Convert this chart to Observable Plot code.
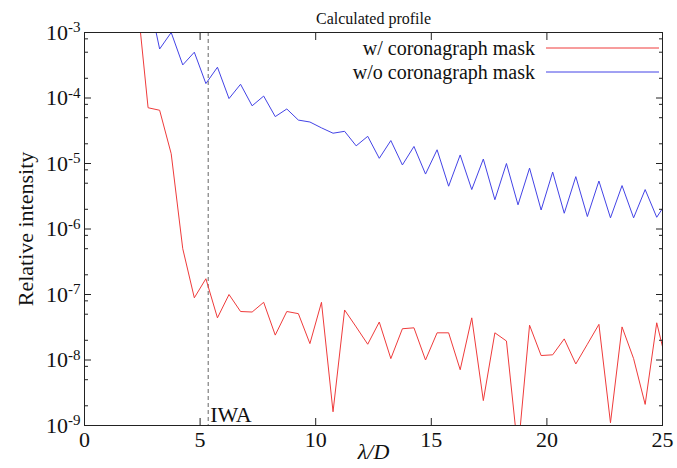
<!DOCTYPE html>
<html><head><meta charset="utf-8">
<script src="https://cdn.jsdelivr.net/npm/d3@7"></script>
<script src="https://cdn.jsdelivr.net/npm/@observablehq/plot@0.6"></script>
<style>html,body{margin:0;padding:0;background:#fff} svg{display:block} svg text{font-family:"Liberation Serif", "Times New Roman", "DejaVu Serif", serif}</style>
</head><body><div id="chart"></div>
<script>
// sample positions (lambda/D)
const xs = [2.25, 2.75, 3.25, 3.75, 4.25, 4.75, 5.25, 5.75, 6.25, 6.75, 7.25, 7.75, 8.25, 8.75, 9.25, 9.75,
  10.25, 10.75, 11.25, 11.75, 12.25, 12.75, 13.25, 13.75, 14.25, 14.75, 15.25, 15.75, 16.25, 16.75,
  17.25, 17.75, 18.25, 18.75, 19.25, 19.75, 20.25, 20.75, 21.25, 21.75, 22.25, 22.75, 23.25, 23.75,
  24.25, 24.75, 25.25];
// w/ coronagraph mask
const withMask = [4.0e-3, 7.1e-5, 6.5e-5, 1.41e-5, 5.0e-7, 8.9e-8, 1.74e-7, 4.4e-8, 1.0e-7, 5.5e-8, 5.4e-8, 7.6e-8,
  2.4e-8, 5.5e-8, 5.1e-8, 1.78e-8, 7.6e-8, 1.62e-9, 5.8e-8, 3.2e-8, 1.74e-8, 3.8e-8, 1.05e-8, 3.0e-8,
  3.1e-8, 1.0e-8, 2.6e-8, 2.6e-8, 7.1e-9, 4.4e-8, 2.4e-9, 2.6e-8, 1.95e-8, 4.0e-10, 3.4e-8, 1.17e-8,
  1.2e-8, 2.1e-8, 8.7e-9, 1.74e-8, 3.5e-8, 1.1e-9, 3.2e-8, 1.05e-8, 2.1e-9, 3.7e-8, 6.9e-9];
// w/o coronagraph mask
const withoutMask = [null, 3.8e-3, 5.6e-4, 1.0e-3, 3.2e-4, 5.0e-4, 1.66e-4, 2.95e-4, 9.8e-5, 1.62e-4, 7.6e-5, 1.07e-4,
  5.2e-5, 6.8e-5, 4.6e-5, 4.3e-5, 3.5e-5, 2.9e-5, 3.1e-5, 1.86e-5, 2.6e-5, 1.2e-5, 2.24e-5, 9.5e-6,
  1.82e-5, 6.9e-6, 1.62e-5, 4.5e-6, 1.35e-5, 4.0e-6, 1.17e-5, 2.8e-6, 1.0e-5, 2.34e-6, 8.5e-6, 1.95e-6,
  7.4e-6, 1.74e-6, 6.3e-6, 1.55e-6, 5.4e-6, 1.48e-6, 4.6e-6, 1.48e-6, 4.0e-6, 1.51e-6, 2.8e-6];

const seriesNames = ["w/ coronagraph mask", "w/o coronagraph mask"];
const seriesColors = ["#ef3b3b", "#4343e6"];
const xTicks = [0, 5, 10, 15, 20, 25];
const yTicks = [1e-9, 1e-8, 1e-7, 1e-6, 1e-5, 1e-4, 1e-3];
const yTickExponents = ["-9", "-8", "-7", "-6", "-5", "-4", "-3"];
const yMinorTicks = [2e-9, 5e-9, 8e-9, 2e-8, 5e-8, 8e-8, 2e-7, 5e-7, 8e-7, 2e-6, 5e-6, 8e-6,
  2e-5, 5e-5, 8e-5, 2e-4, 5e-4, 8e-4];
const iwa = 5.35;
const iwaLabel = "IWA";
const title = "Calculated profile";
const xLabel = "λ/D";
const yLabel = "Relative intensity";

const rowsMask = xs.map((x, i) => ({x, y: withMask[i]}));
const rowsNoMask = xs.map((x, i) => ({x, y: withoutMask[i]})).filter(d => d.y != null);

const font = "Liberation Serif";
const ink = "#222";
const blank = () => "";

const plot = Plot.plot({
  width: 677, height: 468,
  marginLeft: 84, marginRight: 15, marginTop: 32, marginBottom: 43,
  style: {fontFamily: font, fontSize: "22px", background: "#fff", color: "#111", overflow: "visible"},
  x: {domain: [0, 25], label: null},
  y: {type: "log", domain: [1e-9, 1e-3], label: null},
  marks: [
    Plot.ruleX([iwa], {stroke: "#666", strokeWidth: 1, strokeDasharray: "4,3"}),
    Plot.line(rowsMask, {x: "x", y: "y", stroke: seriesColors[0], strokeWidth: 1, clip: true}),
    Plot.line(rowsNoMask, {x: "x", y: "y", stroke: seriesColors[1], strokeWidth: 1, clip: true}),
    Plot.frame({stroke: ink, strokeWidth: 1}),
    // inward ticks (no labels)
    Plot.axisX(xTicks, {anchor: "bottom", tickSize: 7, dy: -7, tickFormat: blank, label: null, stroke: ink}),
    Plot.axisX(xTicks, {anchor: "top", tickSize: 7, dy: 7, tickFormat: blank, label: null, stroke: ink}),
    Plot.axisY(yTicks, {anchor: "left", tickSize: 7, dx: 7, tickFormat: blank, label: null, stroke: ink}),
    Plot.axisY(yTicks, {anchor: "right", tickSize: 7, dx: -7, tickFormat: blank, label: null, stroke: ink}),
    Plot.axisY(yMinorTicks, {anchor: "left", tickSize: 4, dx: 4, tickFormat: blank, label: null, stroke: ink}),
    Plot.axisY(yMinorTicks, {anchor: "right", tickSize: 4, dx: -4, tickFormat: blank, label: null, stroke: ink}),
    // tick labels
    Plot.axisX(xTicks, {anchor: "bottom", tickSize: 0, tickPadding: 6, label: null, fontSize: 22, fill: "#111"}),
    Plot.axisY(yTicks, {anchor: "left", tickSize: 0, tickPadding: 4, label: null, fontSize: 22, fill: "#111",
      tickFormat: (d) => yTickExponents[yTicks.indexOf(d)]}),
    // texts
    Plot.text([title], {frameAnchor: "top", dy: -20, fontSize: 16, fontFamily: font, fill: "#111"}),
    Plot.text([xLabel], {frameAnchor: "bottom", dy: 33, fontSize: 22, fontFamily: font, fontStyle: "italic", fill: "#111"}),
    Plot.text([yLabel], {frameAnchor: "left", textAnchor: "middle", dx: -59, rotate: -90, fontSize: 22, fontFamily: font, fill: "#111"}),
    Plot.text([iwa], {x: d => d, text: () => iwaLabel, frameAnchor: "bottom", textAnchor: "start",
      lineAnchor: "middle", dx: 2, dy: -11, fontSize: 22, fontFamily: font, fill: "#111"})
  ]
});

// superscript exponents on the y tick labels
d3.select(plot).selectAll('g[aria-label="y-axis tick label"] text').each(function() {
  const t = d3.select(this);
  const exp = t.text();
  if (!yTickExponents.includes(exp)) return;
  t.text(null);
  t.append("tspan").text("10");
  t.append("tspan").attr("dy", "-0.5em").attr("font-size", "15px").text(exp);
});

// legend
const svg = d3.select(plot);
const legend = svg.append("g").attr("font-family", font).attr("font-size", 20).attr("fill", "#111");
seriesNames.forEach((name, i) => {
  const y = 48 + i * 24;
  legend.append("text").attr("x", 535).attr("y", y).attr("dy", "0.35em").attr("text-anchor", "end").text(name);
  legend.append("line").attr("x1", 546).attr("x2", 659).attr("y1", y).attr("y2", y)
    .attr("stroke", seriesColors[i]).attr("stroke-width", 1);
});

document.getElementById("chart").appendChild(plot);
</script>
</body></html>
